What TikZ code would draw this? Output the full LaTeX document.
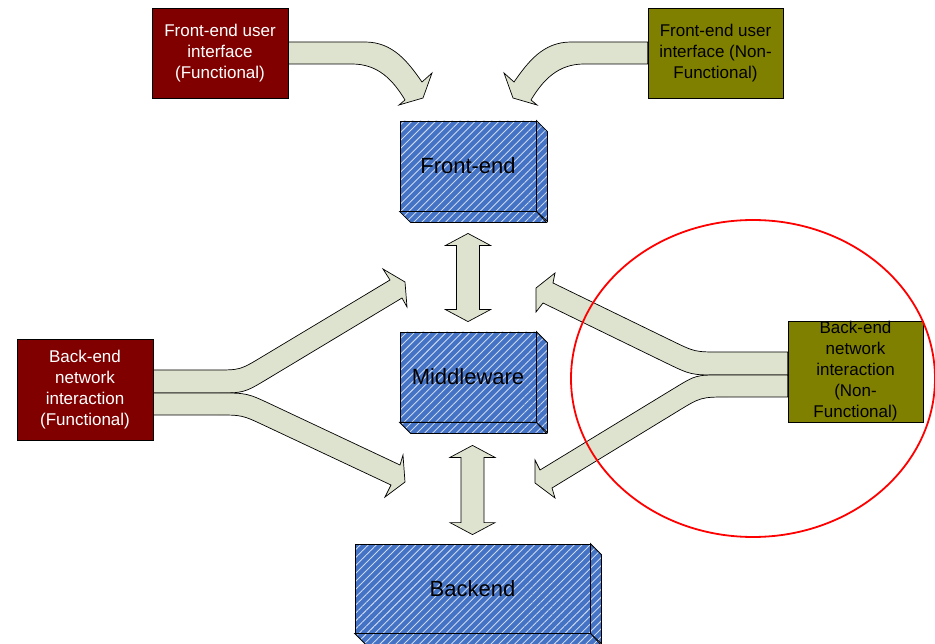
\documentclass[tikz,border=0pt]{standalone}
\usepackage{fontspec}
\setmainfont{Liberation Sans}
\usetikzlibrary{patterns.meta,calc}

\definecolor{funcred}{RGB}{128,0,0}
\definecolor{nfolive}{RGB}{128,128,0}
\definecolor{slabblue}{RGB}{68,114,196}
\definecolor{stripe}{RGB}{205,217,238}
\definecolor{bandfill}{RGB}{221,227,206}

% 3D slab: name, centre x, centre y, width, height, label
\newcommand\slab[6]{%
  \node[slabface, slabtext, minimum width=#4pt, minimum height=#5pt, inner sep=0pt] (#1) at (#2,#3) {#6};
  \path[slabface] (#1.north east) -- ++(11,11) -- ++(0,#5) -- (#1.south east) -- cycle;
  \path[slabface] (#1.south west) -- ++(11,11) -- ++(#4,0) -- (#1.south east) -- cycle;
}

% vertical double-headed block arrow between two apex coordinates
\newcommand\vdblarrow[2]{%
  \draw[band] (#1) -- ++(22.5,12) -- ++(-11,0) -- ($(#2)+(11.5,-12)$) -- ++(11,0)
    -- (#2) -- ++(-22.5,-12) -- ++(11,0) -- ($(#1)+(-11.5,12)$) -- ++(-11,0) -- cycle;
}

\begin{document}
\begin{tikzpicture}[x=1pt,y=-1pt,
  reqbox/.style={draw=black, line width=0.8pt, inner sep=0pt, align=center,
    font=\fontsize{17}{21}\selectfont},
  funcbox/.style={reqbox, fill=funcred, text=white},
  nfbox/.style={reqbox, fill=nfolive, text=black},
  slabface/.style={draw=black, line width=0.8pt, preaction={fill=slabblue},
    pattern={Lines[angle=45,distance=5.6pt,line width=0.9pt]}, pattern color=stripe},
  slabtext/.style={font=\fontsize{22}{26}\selectfont, text=black},
  band/.style={draw=black, line width=0.7pt, fill=bandfill, line join=miter},
  focus/.style={draw=red, line width=1.8pt}
]
\useasboundingbox (0,0) rectangle (935,644);

% requirement boxes
\node[funcbox, minimum width=136pt, minimum height=90pt] (fuf) at (220,53)
  {Front-end user\\interface\\(Functional)};
\node[nfbox, minimum width=135pt, minimum height=90pt] (funf) at (715.5,53)
  {Front-end user\\interface (Non-\\Functional)};
\node[funcbox, minimum width=136pt, minimum height=101pt] (bef) at (85,389.5)
  {Back-end\\network\\interaction\\(Functional)};
\node[nfbox, minimum width=135pt, minimum height=101pt] (benf) at (855.5,371.5)
  {Back-end\\network\\interaction\\(Non-\\Functional)};

% architecture tiers
\slab{fe}{468}{166}{136}{90}{Front-end}
\slab{mw}{468}{377}{136}{90}{Middleware}
\slab{be}{472.5}{588.5}{235}{89}{Backend}

% links between tiers
\coordinate (fm1) at ([yshift=-22pt]fe.south);
\coordinate (fm2) at ([yshift=10pt]mw.north);
\coordinate (mb1) at ([xshift=4.5pt,yshift=-23pt]mw.south);
\coordinate (mb2) at ([yshift=9pt]be.north);
\vdblarrow{fm1}{fm2}
\vdblarrow{mb1}{mb2}

% front-end user interface requirements
\draw[band] ([yshift=11pt]fuf.east) -- (365,42) .. controls (393,42) and (408,62) .. (422,82)
  -- (432,73) -- (423,98) -- (399,105) -- (405,100)
  .. controls (393,80) and (378,64) .. (352,64) -- ([yshift=-11pt]fuf.east) -- cycle;
\draw[band] ([yshift=11pt]funf.west) -- (571,42) .. controls (543,42) and (528,62) .. (514,82)
  -- (504,73) -- (513,98) -- (537,105) -- (531,100)
  .. controls (543,80) and (558,64) .. (584,64) -- ([yshift=-11pt]funf.west) -- cycle;

% functional back-end fork
\draw[band] ([yshift=19.5pt]bef.east) -- (215,370) .. controls (240,370) .. (261.4,357.2)
  -- (390,280) -- (383,269) -- (405,282) -- (407,307) -- (402,298)
  -- (268,378.6) .. controls (244,393) .. (216,393) -- ([yshift=-3.5pt]bef.east) -- cycle;
\draw[band] ([yshift=-3.5pt]bef.east) -- (219,393) .. controls (247,393) .. (272.3,404.9)
  -- (400,465) -- (403,455) -- (405,482) -- (385,497) -- (391,485)
  -- (264.6,425.6) .. controls (242,415) .. (217,415) -- ([yshift=-25.5pt]bef.east) -- cycle;

% non-functional back-end fork
\draw[band] ([yshift=19.5pt]benf.west) -- (720,352) .. controls (695,352) .. (672.5,341.1)
  -- (553,283) -- (555,273) -- (536,288) -- (536,312) -- (543,303)
  -- (665.8,362.8) .. controls (691,375) .. (719,375) -- ([yshift=-3.5pt]benf.west) -- cycle;
\draw[band] ([yshift=-3.5pt]benf.west) -- (721,375) .. controls (696,375) .. (674.6,388)
  -- (540,470) -- (535,460) -- (535,483) -- (555,498) -- (552,488)
  -- (677.1,411.6) .. controls (701,397) .. (729,397) -- ([yshift=-25.5pt]benf.west) -- cycle;

% highlight
\draw[focus] (753,378.5) ellipse [x radius=182pt, y radius=158.5pt];
\end{tikzpicture}
\end{document}
